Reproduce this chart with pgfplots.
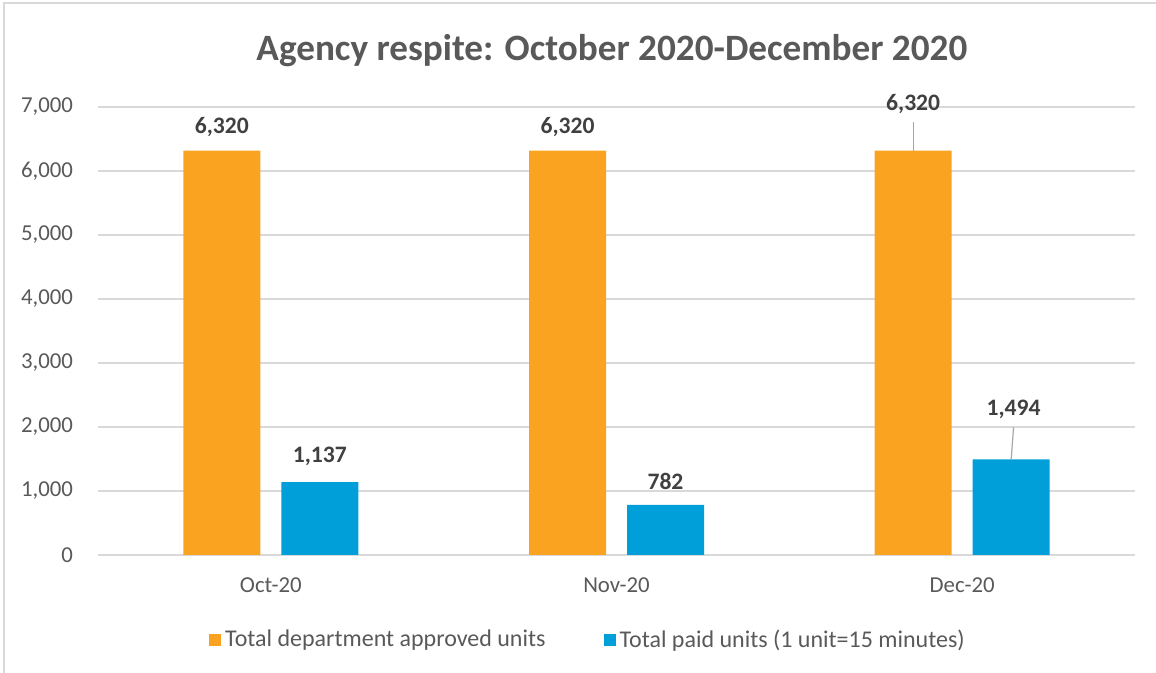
\documentclass[border=0pt]{standalone}
\usepackage{pgfplots}
\pgfplotsset{compat=1.18}
\usepackage{pgfplotstable}
\usepackage{fontspec}
\setmainfont{Carlito}
\definecolor{orangebar}{RGB}{249,163,32}
\definecolor{bluebar}{RGB}{0,159,218}
\definecolor{txt}{RGB}{89,89,89}
\definecolor{lbl}{RGB}{64,64,64}
\definecolor{gridc}{RGB}{217,217,217}
\definecolor{leader}{RGB}{166,166,166}

\pgfplotstableread{
x y dx dy
0 6320 0 11.75
1 6320 0 11.75
2 6320 0 23.25
}\approved
\pgfplotstableread{
x y dx dy
0 1137 0 13
1 782 0 12
2 1494 1.2 25
}\paid

\begin{document}
\begin{tikzpicture}
\useasboundingbox (0,0) rectangle (578pt,336.5pt);
\draw[gridc, line width=0.6pt] (2pt,0) -- (2pt,335pt) -- (578pt,335pt);
\node[font=\fontsize{18.6}{22}\selectfont\bfseries, text=txt] at (306pt,311pt) {Agency respite: October 2020-December 2020};
\begin{axis}[
  at={(49pt,59pt)}, anchor=south west, scale only axis,
  width=518.5pt, height=224pt,
  xmin=-0.5, xmax=2.5, ymin=0, ymax=7000,
  ytick={0,1000,...,7000},
  xtick={0,1,2}, xticklabels={Oct-20,Nov-20,Dec-20},
  ymajorgrids, grid style={gridc, line width=0.8pt},
  axis x line*=bottom, axis y line*=left,
  x axis line style={gridc, line width=0.8pt, -},
  y axis line style={draw=none},
  major tick length=0pt, tick style={draw=none},
  ybar=10.5pt, bar width=38.5pt,
  clip=false,
  /pgf/number format/1000 sep={,},
  /pgf/number format/assume math mode=true,
  tick label style={font=\fontsize{11.4}{13}\selectfont, text=txt},
  yticklabel style={xshift=-9pt},
  xticklabel style={yshift=-8pt},
  nodes near coords,
  every node near coord/.append style={font=\fontsize{11.8}{13}\selectfont\bfseries, text=lbl},
  legend style={at={(0.4735,-0.19)}, anchor=center, draw=none, fill=none,
    legend columns=2, font=\fontsize{12}{14}\selectfont, text=txt,
    /tikz/every even column/.append style={column sep=27pt}},
]
\addplot[fill=orangebar, draw=none,
  visualization depends on={\thisrow{dx}\as\dx},
  visualization depends on={\thisrow{dy}\as\dy},
  nodes near coords style={anchor=center, xshift=\dx pt, yshift=\dy pt},
  legend image code/.code={\fill[orangebar] (-2pt,-3pt) rectangle (4pt,3pt);}]
  table[x=x,y=y] {\approved};
\addlegendentry{Total department approved units}
\addplot[fill=bluebar, draw=none,
  visualization depends on={\thisrow{dx}\as\dx},
  visualization depends on={\thisrow{dy}\as\dy},
  nodes near coords style={anchor=center, xshift=\dx pt, yshift=\dy pt},
  legend image code/.code={\fill[bluebar] (-2pt,-3pt) rectangle (4pt,3pt);}]
  table[x=x,y=y] {\paid};
\addlegendentry{Total paid units (1 unit=15 minutes)}
\draw[leader, line width=0.6pt] ([xshift=-24.5pt]axis cs:2,6320) -- ([xshift=-24.5pt,yshift=14.4pt]axis cs:2,6320);
\draw[leader, line width=0.6pt] ([xshift=24.5pt]axis cs:2,1494) -- ([xshift=25.7pt,yshift=16pt]axis cs:2,1494);
\end{axis}
\end{tikzpicture}
\end{document}
